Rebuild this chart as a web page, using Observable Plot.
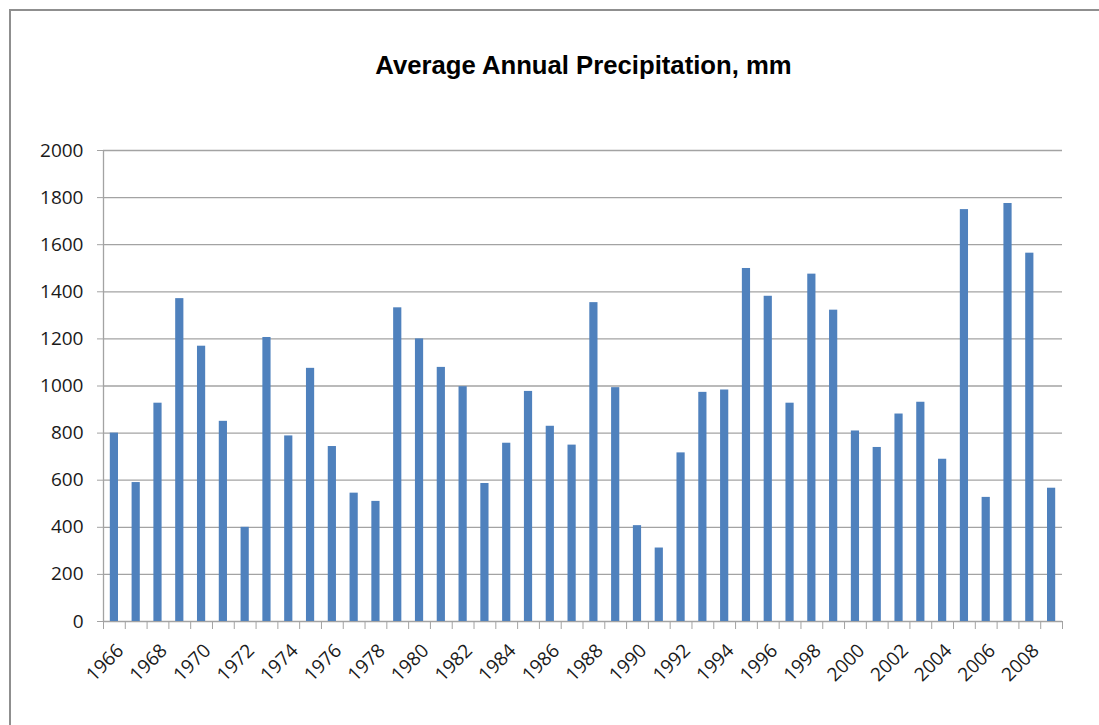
<!DOCTYPE html>
<html>
<head>
<meta charset="utf-8">
<script src="https://cdn.jsdelivr.net/npm/d3@7"></script>
<script src="https://cdn.jsdelivr.net/npm/@observablehq/plot@0.6"></script>
<style>
  html, body { margin: 0; padding: 0; background: #fff; overflow: hidden; }
  #frame { position: absolute; left: 9px; top: 9px; width: 1200px; height: 800px; z-index: 10;
           border-left: 2px solid #8f8f8f; border-top: 2px solid #8f8f8f; pointer-events: none; }
  #title { position: relative; box-sizing: border-box; width: 1099px; height: 130px;
           padding-left: 68px; padding-top: 50px; text-align: center;
           font-family: "Liberation Sans", Arial, sans-serif; font-weight: bold; font-size: 25.7px;
           color: #000; line-height: 30px; }
  #chart { position: relative; }
</style>
</head>
<body>
<div id="frame"></div>
<div id="title">Average Annual Precipitation, mm</div>
<div id="chart"></div>
<script>
const years = d3.range(1966, 2010);
const precipitation = [
  800, 590, 927, 1371, 1169, 850, 400, 1206, 788, 1075,
  743, 545, 510, 1332, 1200, 1079, 997, 586, 757, 977,
  829, 749, 1354, 993, 407, 312, 716, 973, 983, 1499,
  1381, 927, 1475, 1322, 809, 739, 881, 931, 689, 1749,
  527, 1775, 1564, 566
];
const yTicks = d3.range(0, 2001, 200);
const labelYears = d3.range(1966, 2009, 2);

const data = years.map((y, i) => ({year: y, value: precipitation[i]}));
const boundaries = d3.range(years[0] - 0.5, years[years.length - 1] + 1, 1);

const gray = "#a3a3a3";
const chart = Plot.plot({
  width: 1099,
  height: 595,
  marginTop: 20,
  marginBottom: 104,
  marginLeft: 103,
  marginRight: 37,
  style: {fontFamily: "'Open Sans', sans-serif", fontSize: "19px", color: "#1a1a1a", background: "transparent"},
  x: {type: "linear", domain: [years[0] - 0.5, years[years.length - 1] + 0.5]},
  y: {domain: [0, 2000]},
  marks: [
    Plot.ruleY(yTicks, {stroke: gray, strokeWidth: 1.3}),
    Plot.rectY(data, {x1: d => d.year - 0.5, x2: d => d.year + 0.5, y: "value",
      fill: "#4f81bd", insetLeft: 6.8, insetRight: 6.8}),
    Plot.ruleX([years[0] - 0.5], {stroke: gray, strokeWidth: 1.3}),
    Plot.axisY({ticks: yTicks, tickSize: 6, tickPadding: 14, stroke: gray, tickFormat: d => String(d), label: null}),
    Plot.axisX({ticks: boundaries, tickSize: 8, tickFormat: () => "", stroke: gray, label: null}),
    Plot.axisX({ticks: labelYears, tickSize: 0, tickRotate: -45, tickPadding: 26, dx: 6, tickFormat: d => String(d), label: null})
  ]
});
document.getElementById("chart").appendChild(chart);
</script>
</body>
</html>
